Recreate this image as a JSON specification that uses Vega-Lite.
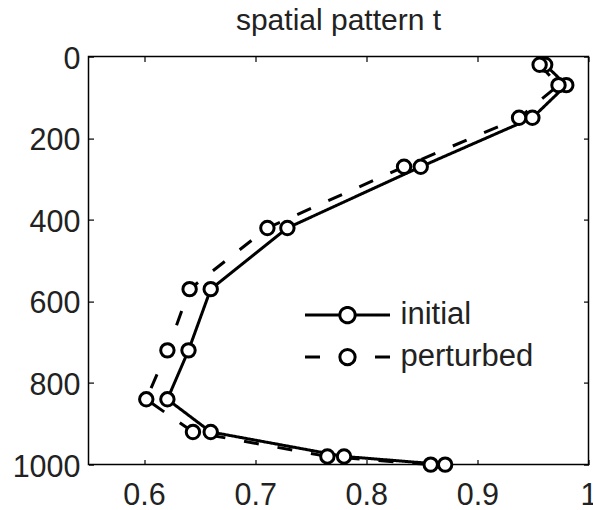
{
  "$schema": "https://vega.github.io/schema/vega-lite/v6.json",
  "width": 500,
  "height": 408,
  "autosize": {"type": "none"},
  "padding": {"left": 88.5, "top": 56.6, "right": 4.5, "bottom": 45.4},
  "background": "white",
  "title": {
    "text": "spatial pattern t",
    "font": "Liberation Sans",
    "fontSize": 30,
    "fontWeight": "normal",
    "color": "#222",
    "anchor": "middle",
    "frame": "group",
    "baseline": "alphabetic",
    "offset": -16
  },
  "config": {
    "view": {"stroke": "black", "strokeWidth": 1.5},
    "font": "Liberation Sans",
    "axis": {
      "grid": false,
      "domain": false,
      "title": null,
      "tickColor": "black",
      "tickWidth": 1.2,
      "tickSize": -5,
      "labelFont": "Liberation Sans",
      "labelFontSize": 30.5,
      "labelColor": "#222"
    }
  },
  "data": {
    "values": [
      {"series": "initial", "depth": 20, "value": 0.961},
      {"series": "initial", "depth": 70, "value": 0.980},
      {"series": "initial", "depth": 150, "value": 0.9495},
      {"series": "initial", "depth": 270, "value": 0.849},
      {"series": "initial", "depth": 420, "value": 0.729},
      {"series": "initial", "depth": 570, "value": 0.660},
      {"series": "initial", "depth": 720, "value": 0.640},
      {"series": "initial", "depth": 840, "value": 0.621},
      {"series": "initial", "depth": 920, "value": 0.660},
      {"series": "initial", "depth": 980, "value": 0.780},
      {"series": "initial", "depth": 1000, "value": 0.871},
      {"series": "perturbed", "depth": 20, "value": 0.956},
      {"series": "perturbed", "depth": 70, "value": 0.973},
      {"series": "perturbed", "depth": 150, "value": 0.9375},
      {"series": "perturbed", "depth": 270, "value": 0.834},
      {"series": "perturbed", "depth": 420, "value": 0.711},
      {"series": "perturbed", "depth": 570, "value": 0.641},
      {"series": "perturbed", "depth": 720, "value": 0.621},
      {"series": "perturbed", "depth": 840, "value": 0.602},
      {"series": "perturbed", "depth": 920, "value": 0.644},
      {"series": "perturbed", "depth": 980, "value": 0.765},
      {"series": "perturbed", "depth": 1000, "value": 0.858}
    ]
  },
  "resolve": {"axis": {"x": "independent", "y": "independent"}},
  "layer": [
    {
      "mark": {"type": "line", "stroke": "black", "strokeWidth": 3},
      "encoding": {
        "x": {
          "field": "value",
          "type": "quantitative",
          "scale": {"domain": [0.55, 1.0], "nice": false, "zero": false},
          "axis": {
            "orient": "bottom",
            "values": [0.6, 0.7, 0.8, 0.9, 1.0],
            "format": "~g",
            "labelPadding": 20.5,
            "labelFlush": false
          }
        },
        "y": {
          "field": "depth",
          "type": "quantitative",
          "scale": {"domain": [0, 1000], "reverse": true, "nice": false, "zero": false},
          "axis": {
            "orient": "left",
            "values": [0, 200, 400, 600, 800, 1000],
            "format": "d",
            "labelPadding": 13.5,
            "labelOffset": 2.5,
            "labelFlush": false
          }
        },
        "order": {"field": "depth", "type": "quantitative"},
        "strokeDash": {
          "field": "series",
          "type": "nominal",
          "scale": {"domain": ["initial", "perturbed"], "range": [[1, 0], [15, 19]]},
          "legend": {
            "title": null,
            "orient": "none",
            "legendX": 243.5,
            "legendY": 243,
            "padding": 0,
            "symbolSize": 400,
            "symbolStrokeWidth": 3,
            "symbolStrokeColor": "black",
            "symbolFillColor": "white",
            "labelFont": "Liberation Sans",
            "labelFontSize": 31,
            "labelColor": "#222",
            "labelOffset": 37.5,
            "rowPadding": 10,
            "encode": {
              "symbols": {
                "update": {
                  "shape": {
                    "signal": "datum.value === 'initial' ? 'M-4.25,0H-0.765M0.765,0H4.25M-0.765,0A0.765,0.765,0,0,1,0,-0.765M0,-0.765A0.765,0.765,0,0,1,0.765,0M0.765,0A0.765,0.765,0,0,1,0,0.765M0,0.765A0.765,0.765,0,0,1,-0.765,0' : 'M-4.25,0H-2.75M2.75,0H4.25M-0.765,0A0.765,0.765,0,0,1,0,-0.765M0,-0.765A0.765,0.765,0,0,1,0.765,0M0.765,0A0.765,0.765,0,0,1,0,0.765M0,0.765A0.765,0.765,0,0,1,-0.765,0'"
                  },
                  "fill": {"value": "white"},
                  "stroke": {"value": "black"},
                  "strokeWidth": {"value": 3},
                  "opacity": {"value": 1}
                }
              }
            }
          }
        }
      }
    },
    {
      "mark": {
        "type": "point",
        "shape": "circle",
        "filled": true,
        "fill": "white",
        "stroke": "black",
        "strokeWidth": 3,
        "size": 180,
        "opacity": 1
      },
      "encoding": {
        "x": {
          "field": "value",
          "type": "quantitative",
          "scale": {"domain": [0.55, 1.0], "nice": false, "zero": false},
          "axis": {
            "orient": "top",
            "values": [0.6, 0.7, 0.8, 0.9, 1.0],
            "labels": false
          }
        },
        "y": {
          "field": "depth",
          "type": "quantitative",
          "scale": {"domain": [0, 1000], "reverse": true, "nice": false, "zero": false},
          "axis": {
            "orient": "right",
            "values": [0, 200, 400, 600, 800, 1000],
            "labels": false
          }
        }
      }
    }
  ]
}
